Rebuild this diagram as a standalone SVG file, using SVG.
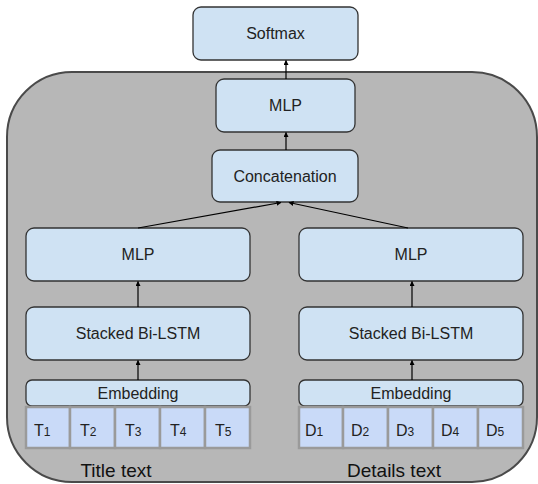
<svg xmlns="http://www.w3.org/2000/svg" width="538" height="484" viewBox="0 0 538 484">
  <defs>
    <marker id="arrow" viewBox="0 0 10 10" refX="9" refY="5" markerWidth="5" markerHeight="5" orient="auto" markerUnits="userSpaceOnUse">
      <path d="M0,0 L10,5 L0,10 z" fill="#000"/>
    </marker>
    <style>
      .panel { fill: #b7b7b7; stroke: #4a4a4a; stroke-width: 2; }
      .box { fill: #cfe2f3; stroke: #333; stroke-width: 1.3; }
      .cell { fill: #c9daf8; stroke: #9a9a9a; stroke-width: 2.5; }
      .lbl { font-family: "Liberation Sans", Arial, sans-serif; font-size: 16px; fill: #222; text-anchor: middle; }
      .tok { font-family: "Liberation Sans", Arial, sans-serif; font-size: 16px; fill: #222; }
      .sub { font-size: 12px; }
      .cap { font-family: "Liberation Sans", Arial, sans-serif; font-size: 19px; fill: #111; text-anchor: middle; }
      .conn { stroke: #000; stroke-width: 1.2; fill: none; marker-end: url(#arrow); }
    </style>
  </defs>

  <!-- shaded panel behind the model body -->
  <rect class="panel" x="7" y="72" width="530" height="410" rx="65" ry="65"/>

  <g id="softmax">
    <rect class="box" x="193" y="7" width="165" height="53" rx="8"/>
    <text class="lbl" x="275.5" y="39">Softmax</text>
  </g>

  <g id="mlp-top">
    <rect class="box" x="216" y="79" width="139" height="53" rx="8"/>
    <text class="lbl" x="285.5" y="111">MLP</text>
  </g>

  <g id="concat">
    <rect class="box" x="212" y="150" width="146" height="52" rx="8"/>
    <text class="lbl" x="285" y="182">Concatenation</text>
  </g>

  <g id="mlp-left">
    <rect class="box" x="26" y="228" width="224" height="53" rx="8"/>
    <text class="lbl" x="138" y="260">MLP</text>
  </g>

  <g id="mlp-right">
    <rect class="box" x="299" y="228" width="224" height="53" rx="8"/>
    <text class="lbl" x="411" y="260">MLP</text>
  </g>

  <g id="lstm-left">
    <rect class="box" x="26" y="307" width="224" height="53" rx="8"/>
    <text class="lbl" x="138" y="339">Stacked Bi-LSTM</text>
  </g>

  <g id="lstm-right">
    <rect class="box" x="299" y="307" width="224" height="53" rx="8"/>
    <text class="lbl" x="411" y="339">Stacked Bi-LSTM</text>
  </g>

  <g id="embed-left">
    <rect class="box" x="26" y="380" width="224" height="26" rx="6"/>
    <text class="lbl" x="138" y="398.5">Embedding</text>
  </g>

  <g id="embed-right">
    <rect class="box" x="299" y="380" width="224" height="26" rx="6"/>
    <text class="lbl" x="411" y="398.5">Embedding</text>
  </g>

  <g id="tokens-title">
    <rect class="cell" x="26" y="407" width="44" height="41"/>
    <rect class="cell" x="70" y="407" width="45" height="41"/>
    <rect class="cell" x="115" y="407" width="45" height="41"/>
    <rect class="cell" x="160" y="407" width="45" height="41"/>
    <rect class="cell" x="205" y="407" width="45" height="41"/>
    <text class="tok" x="34" y="436">T<tspan class="sub">1</tspan></text>
    <text class="tok" x="80" y="436">T<tspan class="sub">2</tspan></text>
    <text class="tok" x="125" y="436">T<tspan class="sub">3</tspan></text>
    <text class="tok" x="170" y="436">T<tspan class="sub">4</tspan></text>
    <text class="tok" x="215" y="436">T<tspan class="sub">5</tspan></text>
  </g>

  <g id="tokens-details">
    <rect class="cell" x="299" y="407" width="44" height="41"/>
    <rect class="cell" x="343" y="407" width="45" height="41"/>
    <rect class="cell" x="388" y="407" width="45" height="41"/>
    <rect class="cell" x="433" y="407" width="45" height="41"/>
    <rect class="cell" x="478" y="407" width="45" height="41"/>
    <text class="tok" x="305" y="436">D<tspan class="sub">1</tspan></text>
    <text class="tok" x="351" y="436">D<tspan class="sub">2</tspan></text>
    <text class="tok" x="396" y="436">D<tspan class="sub">3</tspan></text>
    <text class="tok" x="441" y="436">D<tspan class="sub">4</tspan></text>
    <text class="tok" x="486" y="436">D<tspan class="sub">5</tspan></text>
  </g>

  <g id="captions">
    <text class="cap" x="116" y="477">Title text</text>
    <text class="cap" x="394" y="477">Details text</text>
  </g>

  <g id="connectors">
    <line class="conn" x1="138" y1="380" x2="138" y2="360.5"/>
    <line class="conn" x1="412" y1="380" x2="412" y2="360.5"/>
    <line class="conn" x1="138" y1="307" x2="138" y2="281.5"/>
    <line class="conn" x1="412" y1="307" x2="412" y2="281.5"/>
    <line class="conn" x1="138" y1="228" x2="281" y2="202.5"/>
    <line class="conn" x1="408" y1="228" x2="289" y2="202.5"/>
    <line class="conn" x1="286" y1="150" x2="286" y2="132.5"/>
    <line class="conn" x1="286" y1="79" x2="286" y2="60.5"/>
  </g>
</svg>
